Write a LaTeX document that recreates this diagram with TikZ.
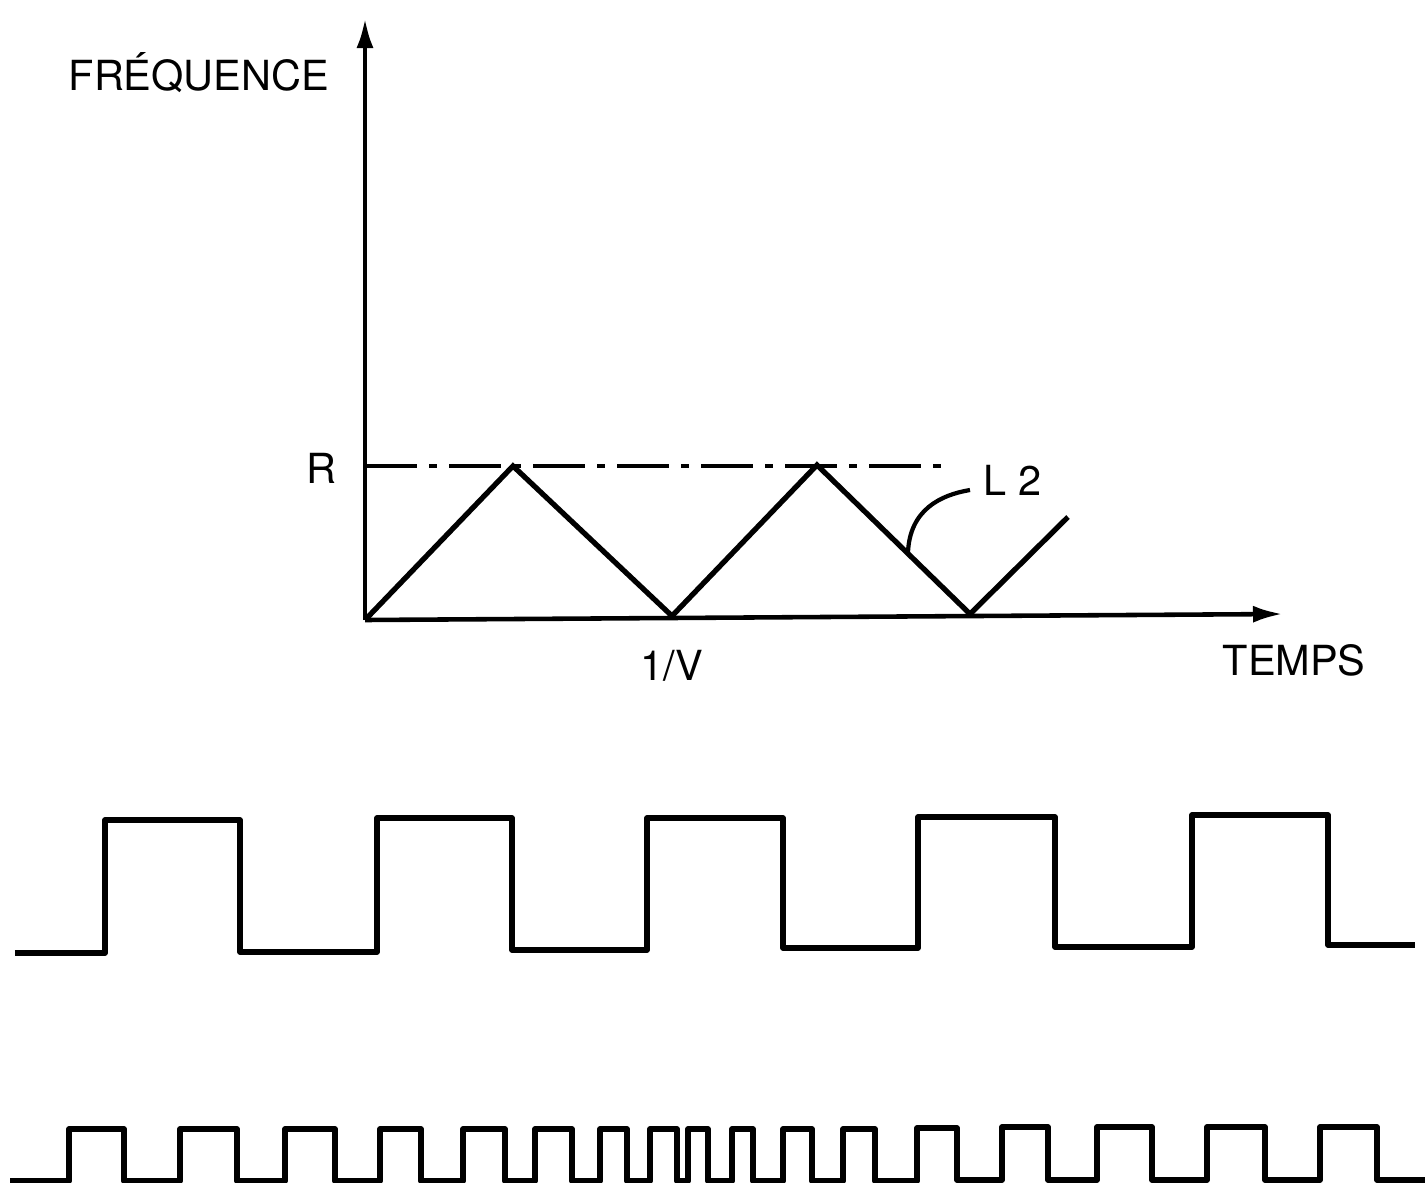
\documentclass[tikz,border=0pt]{standalone}
\usepackage{fontspec}
\setmainfont{TeX Gyre Heros}
\usetikzlibrary{positioning,arrows.meta}

\begin{document}
\begin{tikzpicture}[x=1cm,y=1cm]

    % Define styles
    \tikzstyle{axis} = [line width=1.3pt, -{Latex[length=0.3cm,width=0.17cm]}]
    \tikzstyle{ramp} = [line width=1.5pt, line join=miter]
    \tikzstyle{level} = [line width=1.3pt, dash pattern=on 0.52cm off 0.12cm on 0.08cm off 0.12cm]
    \tikzstyle{wave} = [line width=1.5pt, line join=round]
    \tikzstyle{lbl} = [inner sep=0pt, font=\fontsize{11.8}{14}\selectfont]

    \useasboundingbox (0,0) rectangle (14.25,-11.83);

    % Axes
    \coordinate (origin) at (3.65,-6.20);
    \coordinate (ftop) at (3.65,-0.18);
    \coordinate (tend) at (12.83,-6.14);
    \draw [axis] (origin) -- (ftop);
    \draw [axis] (origin) -- (tend);

    % Labels
    \node [lbl, anchor=base west] (freq) at (0.68,-0.90) {FRÉQUENCE};
    \node [lbl, anchor=base west] (temps) at (12.22,-6.75) {TEMPS};
    \node [lbl, anchor=base west] (inv) at (6.40,-6.80) {1/V};
    \coordinate (rlev) at (3.65,-4.66);
    \node [lbl, anchor=base east] (rlab) at (3.37,-4.83) {R};
    \node [lbl, anchor=base west] (ltwo) at (9.83,-4.95) {L 2};

    % Level R
    \coordinate (rend) at (9.45,-4.66);
    \draw [level] (rlev) -- (rend);

    % Frequency ramp
    \draw [ramp] (origin) -- (5.13,-4.66) -- (6.72,-6.16) -- (8.17,-4.65)
        -- (9.70,-6.14) -- (10.68,-5.17);

    % Leader to L 2
    \coordinate (lfoot) at (9.08,-5.52);
    \coordinate (lhead) at (9.70,-4.90);
    \draw [line width=1.2pt] (lfoot) .. controls (9.10,-5.10) and (9.40,-4.95) .. (lhead);

    % Square wave
    \draw [wave] (0.15,-9.53) -| (1.05,-8.20) -| (2.40,-9.52) -| (3.77,-8.18)
        -| (5.12,-9.50) -| (6.47,-8.18) -| (7.83,-9.48) -| (9.18,-8.17)
        -| (10.55,-9.47) -| (11.92,-8.15) -| (13.28,-9.45) -- (14.15,-9.45);

    % Chirped pulse train
    \draw [wave] (0.10,-11.81) -| (0.69,-11.29) -| (1.24,-11.81) -| (1.80,-11.29)
        -| (2.37,-11.81) -| (2.85,-11.29) -| (3.35,-11.81) -| (3.80,-11.29)
        -| (4.21,-11.81) -| (4.63,-11.29) -| (5.05,-11.81) -| (5.35,-11.29)
        -| (5.72,-11.81) -| (6.00,-11.29) -| (6.27,-11.81) -| (6.50,-11.29)
        -| (6.77,-11.81) -| (6.88,-11.29) -| (7.08,-11.81) -| (7.32,-11.29)
        -| (7.53,-11.81) -| (7.83,-11.29) -| (8.12,-11.81) -| (8.43,-11.29)
        -| (8.75,-11.81) -| (9.17,-11.28) -| (9.57,-11.80) -| (10.02,-11.27)
        -| (10.48,-11.80) -| (10.97,-11.27) -| (11.52,-11.80) -| (12.07,-11.27)
        -| (12.65,-11.80) -| (13.20,-11.27) -| (13.77,-11.80) -- (14.30,-11.80);

\end{tikzpicture}
\end{document}
